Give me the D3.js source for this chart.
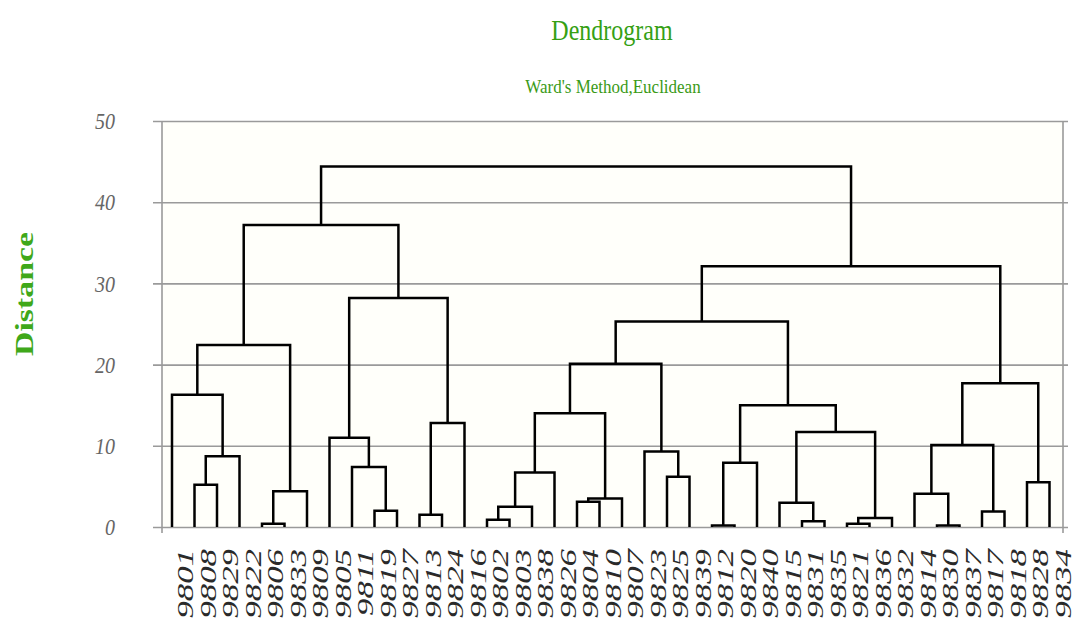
<!DOCTYPE html>
<html>
<head>
<meta charset="utf-8">
<style>
body {
    margin: 0;
    background: #fff;
}
text {
    font-family: "Liberation Serif", "Times New Roman", serif;
}
.link {
    fill: none;
    stroke: #000;
    stroke-width: 2.5;
}
.frame {
    stroke: #9a9a9a;
    stroke-width: 1.6;
}
</style>
</head>
<body>

<svg id="chart" width="1075" height="623"></svg>

<script src="https://d3js.org/d3.v7.min.js"></script>
<script>

// leaf order as printed under the tree
var leafLabels = ["9801", "9808", "9829", "9822", "9806", "9833", "9809", "9805", "9811", "9819",
    "9827", "9813", "9824", "9816", "9802", "9803", "9838", "9826", "9804", "9810",
    "9807", "9823", "9825", "9839", "9812", "9820", "9840", "9815", "9831", "9835",
    "9821", "9836", "9832", "9814", "9830", "9837", "9817", "9818", "9828", "9834"];

// linkage rows: [child a, child b, distance]; ids >= 40 are earlier rows (40 + row)
var merges = [
    [1, 2, 5.2], [40, 3, 8.7], [0, 41, 16.3], [4, 5, 0.4], [43, 6, 4.4],
    [42, 44, 22.4], [9, 10, 2.0], [8, 46, 7.4], [7, 47, 11.0], [11, 12, 1.5],
    [49, 13, 12.8], [48, 50, 28.2], [45, 51, 37.2], [14, 15, 0.9], [53, 16, 2.5],
    [54, 17, 6.7], [18, 19, 3.1], [56, 20, 3.5], [55, 57, 14.0], [22, 23, 6.2],
    [21, 59, 9.3], [58, 60, 20.1], [24, 25, 0.2], [62, 26, 7.9], [28, 29, 0.7],
    [27, 64, 3.0], [30, 31, 0.4], [66, 32, 1.1], [65, 67, 11.7], [63, 68, 15.0],
    [61, 69, 25.3], [34, 35, 0.2], [33, 71, 4.1], [36, 37, 1.9], [72, 73, 10.1],
    [38, 39, 5.5], [74, 75, 17.7], [70, 76, 32.1], [52, 77, 44.4]
];

var yTicks = [0, 10, 20, 30, 40, 50];

var svg = d3.select("#chart");

var xScale = d3.scalePoint()
    .domain(leafLabels)
    .range([172, 1049.5]);

var yScale = d3.scaleLinear()
    .domain([0, 50])
    .range([527, 121]);

// pale plot background
svg.append("rect")
    .attr("x", 162)
    .attr("y", yScale(50))
    .attr("width", 901)
    .attr("height", yScale(0) - yScale(50))
    .attr("fill", "#fffffa");

// gridlines + tick labels
var yAxis = svg.append("g")
    .attr("transform", "translate(153,0)")
    .call(d3.axisLeft(yScale).tickValues(yTicks).tickSize(-915).tickPadding(38).tickFormat(d3.format("d")));
yAxis.select(".domain").remove();
yAxis.selectAll(".tick line")
    .attr("stroke", "#9a9a9a")
    .attr("stroke-width", 1.6);
yAxis.selectAll(".tick text")
    .attr("fill", "#666")
    .attr("font-size", 20)
    .attr("font-style", "italic")
    .attr("font-family", "'Liberation Serif', serif")
    .attr("transform", "scale(1,1.2)");

// left axis and right border
svg.append("line").attr("class", "frame")
    .attr("x1", 162).attr("x2", 162).attr("y1", yScale(50)).attr("y2", yScale(0) + 6);
svg.append("line").attr("class", "frame")
    .attr("x1", 1063).attr("x2", 1063).attr("y1", yScale(50)).attr("y2", yScale(0) + 6);

// node positions
var nodeX = leafLabels.map(function(d) { return xScale(d); });
var nodeH = leafLabels.map(function() { return 0; });
merges.forEach(function(m) {
    nodeX.push((nodeX[m[0]] + nodeX[m[1]]) / 2);
    nodeH.push(m[2]);
});

svg.append("g").selectAll("path")
    .data(merges)
    .enter()
    .append("path")
    .attr("class", "link")
    .attr("d", function(m) {
        var a = m[0], b = m[1];
        return "M" + nodeX[a] + "," + yScale(nodeH[a]) +
            "V" + yScale(m[2]) +
            "H" + nodeX[b] +
            "V" + yScale(nodeH[b]);
    });

// leaf labels
svg.append("g").selectAll("text")
    .data(leafLabels)
    .enter()
    .append("text")
    .attr("transform", function(d) {
        return "translate(" + (xScale(d) + 21) + ",549) rotate(-90) scale(1.45,1)";
    })
    .attr("text-anchor", "end")
    .attr("font-size", 24)
    .attr("font-style", "italic")
    .attr("fill", "#2a2a2a")
    .text(function(d) { return d; });

// titles
svg.append("text")
    .attr("transform", "translate(612,40) scale(1,1.25)")
    .attr("text-anchor", "middle")
    .attr("font-size", 24)
    .attr("fill", "#35a014")
    .text("Dendrogram");

svg.append("text")
    .attr("transform", "translate(613,93) scale(1,1.1)")
    .attr("text-anchor", "middle")
    .attr("font-size", 17)
    .attr("fill", "#3a9a16")
    .text("Ward's Method,Euclidean");

svg.append("text")
    .attr("transform", "translate(33,294) rotate(-90) scale(1.3,1)")
    .attr("text-anchor", "middle")
    .attr("font-size", 26)
    .attr("font-weight", "bold")
    .attr("fill", "#3fa81a")
    .text("Distance");

</script>
</body>
</html>
